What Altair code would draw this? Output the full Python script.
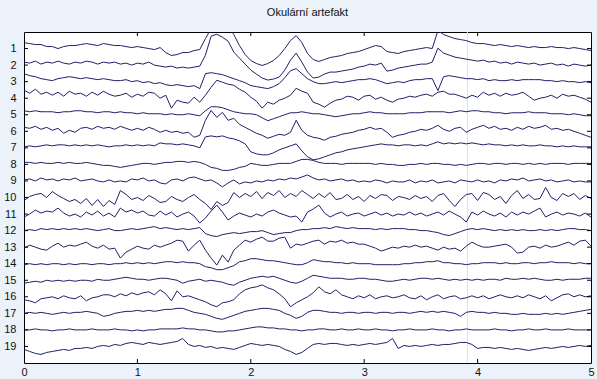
import altair as alt
import pandas as pd

TITLE = "Okulární artefakt"
CHANNELS = list(range(1, 20))
X_TICKS = [0, 1, 2, 3, 4, 5]
N = 101
DT = 0.05
TIME = [round(i * DT, 2) for i in range(N)]
UV_PER_ROW = 16.6          # amplitude units per channel spacing
MARKER_T = [3.91]          # faint cursor line

ch01 = [6,5,4,4,2,2,0,2,3,3, 4,5,4,3,5,4,3,3,2,1, 2,1,0,-1,1,-4,-7,-6,-4,-4,
        -2,-1,10,20,26,26,22,14,3,-6, -12,-15,-17,-15,-12,-7,0,8,13,6,
        -5,-11,-13,-11,-9,-8,-7,-5,-4,-3, -1,1,3,2,-3,-4,-5,-3,-2,-1,
        0,1,0,18,14,12,10,9,8,6, 5,5,4,3,4,3,2,3,2,1, 2,1,1,2,1,1,0,1,0,-1,-2]
ch02 = [3,2,4,1,3,2,4,2,1,3, 2,4,3,1,3,2,3,1,2,0, 2,1,3,0,-1,-2,-1,-3,-2,-3,
        -2,-1,10,29,31,28,24,13,7,1, -5,-9,-13,-15,-14,-12,-5,5,12,3,
        -7,-13,-12,-9,-7,-7,-6,-5,-4,-2, -1,1,0,2,-6,-5,-3,-2,-1,0,
        1,1,3,17,12,10,8,7,6,5, 4,5,3,4,2,3,1,3,2,1, 2,0,1,2,0,1,-1,1,0,-1,0]
ch03 = [8,6,5,3,2,1,3,4,5,4, 3,4,3,2,3,2,1,1,2,0, 1,-1,0,-2,-1,-3,-4,-3,-4,-5,
        -4,-7,8,9,8,7,5,3,1,-1, -4,-5,-6,-7,-5,-2,4,11,13,8,
        3,0,-2,-2,-1,0,-1,0,1,2, 2,3,2,0,-2,-1,0,-1,1,2,
        2,3,3,-9,5,6,5,4,3,3, 2,3,1,2,1,1,2,1,2,2, 2,2,1,1,0,1,0,0,-1,0,-1]
ch04 = [8,5,9,4,6,3,6,2,7,4, 5,2,6,3,7,4,2,3,5,1, 4,2,6,5,0,3,-10,-2,-4,-5,
        1,-4,3,11,18,16,14,13,9,6, 1,-3,-10,-4,-6,-2,0,3,10,7,
        5,-4,-6,-9,-5,-2,-1,2,1,-2, 2,3,-1,1,-2,-4,-1,0,2,1,
        3,4,2,6,7,4,4,2,0,3, 1,6,3,5,2,5,3,4,6,2, -2,0,1,3,0,4,2,3,1,-1,-4]
ch05 = [4,3,4,3,3,3,2,3,3,4, 4,3,3,2,3,3,2,3,2,2, 1,2,1,1,1,0,1,0,0,1,
        0,-1,4,8,8,7,5,3,2,1, 1,0,-3,-6,-4,-2,0,2,2,3,
        2,1,1,0,-1,-2,-1,0,1,1, 2,3,2,2,1,1,1,1,2,2,
        2,3,3,3,3,2,3,4,3,4, 4,3,3,2,2,1,2,2,2,3, 2,2,2,1,1,1,0,1,0,-1,-1]
ch06 = [4,3,5,2,4,1,3,-2,1,-1, 3,4,2,5,3,4,2,5,3,1, 3,1,4,2,-1,1,-1,0,-2,-1,
        -6,-4,11,21,14,19,11,13,7,4, 1,-2,-4,-7,-5,-3,-4,-1,11,1,
        -4,-6,-7,-9,-6,-5,-3,-2,-1,1, 2,4,2,3,-1,-6,-4,-3,-1,0,
        2,1,3,6,2,0,3,4,-1,2, 4,6,3,5,2,3,1,4,2,5, 3,4,6,2,3,1,2,0,-2,-4,-6]
ch07 = [1,2,1,2,3,2,3,3,2,3, 2,3,2,3,2,1,2,2,3,2, 3,2,3,2,5,4,4,3,4,3,
        2,0,11,12,11,12,10,9,7,4, -4,-6,-7,-7,-5,-2,0,2,4,-3,
        -9,-12,-11,-9,-7,-5,-4,-2,-1,0, 1,2,3,4,3,3,2,3,3,2,
        3,2,4,6,4,5,4,5,4,5, 4,3,4,3,3,2,3,2,3,2, 2,3,2,2,1,2,1,2,1,1,1]
ch08 = [2,2,1,2,1,1,2,1,2,1, 1,2,1,0,-1,-1,-2,-3,-2,-1, 0,1,1,0,1,2,2,3,3,2,
        3,2,0,-3,-4,-6,-6,-5,-3,-2, 1,0,-1,-1,0,1,1,1,3,5,
        5,4,2,1,1,1,0,1,1,1, 1,1,0,1,0,0,-1,-1,0,0,
        1,0,1,1,0,0,-1,0,-1,0, 1,1,0,1,1,0,1,1,0,1, 0,1,0,1,1,1,0,1,1,1,1]
ch09 = [1,2,0,3,1,2,0,2,1,3, 0,1,2,0,-1,1,-1,0,-1,2, 1,3,0,1,-2,-3,1,2,0,3,
        4,2,0,1,-2,-6,-2,1,-3,-1, -2,0,-1,1,0,2,1,3,2,4,
        6,3,1,2,0,1,2,0,1,-1, 0,-1,1,0,-2,0,-1,-1,1,-2,
        0,-1,1,-2,-1,0,-2,1,0,-1, 1,-1,0,-2,1,0,2,1,3,0, 1,2,0,1,-1,0,1,-1,0,-1,-1]
ch10 = [-3,1,3,4,0,6,2,-1,-4,-2, -6,-1,-8,-2,-9,-3,-7,7,3,-2, 0,-3,2,-1,-5,-4,1,-2,-4,0,
        3,-2,-6,-12,-4,-8,-5,5,0,4, 1,6,-1,5,2,7,0,4,1,7,
        3,-1,4,0,5,-2,-1,3,-2,1, -4,2,-1,3,2,-3,1,0,-2,2,
        -1,1,-4,2,4,-3,-9,-2,3,4, -3,5,3,-2,1,-6,2,7,-1,3, -2,-1,10,0,-3,4,1,4,-2,2,-1]
ch11 = [-3,0,4,1,3,2,6,1,-2,0, -3,2,-1,3,-2,1,-3,6,2,4, 1,3,-1,-2,3,-1,2,-3,0,2,
        -2,-9,-4,3,9,2,-6,-2,1,-1, -3,0,-2,2,4,1,-1,-3,-2,-8,
        2,5,9,1,-3,0,2,-2,0,1, -2,0,2,-1,1,-2,0,-1,2,-1,
        1,-2,0,2,-1,3,0,-3,-8,2, -1,3,0,-2,1,-3,2,-1,2,0, 3,6,-3,0,2,-1,1,0,-2,1,-3]
ch12 = [0,1,0,2,1,2,1,2,1,2, 1,2,1,0,1,2,0,0,1,2, 1,2,3,4,2,3,2,1,2,1,
        2,3,-3,-5,-6,-4,-3,-2,-3,-2, -1,-1,0,-2,-4,-3,-2,-2,0,1,
        1,2,2,3,2,4,3,2,3,2, 2,2,1,2,1,2,2,2,1,1,
        0,0,-1,-2,-4,-5,-3,-1,1,2, 1,2,1,0,1,0,1,0,1,0, 0,1,0,1,0,1,2,2,1,1,0]
ch13 = [-1,2,0,-2,-3,1,4,0,2,1, 3,5,1,-1,2,-2,-1,-11,-5,-2, 1,-1,-2,2,0,2,4,7,6,-4,
        2,7,-3,-11,-18,-8,-15,-3,2,7, 5,8,10,6,6,9,10,-1,3,2,
        4,6,7,3,6,5,7,4,5,3, 3,1,-1,-4,-2,0,-1,1,0,2,
        0,1,-1,-3,0,-2,-1,-4,1,5, 2,0,0,1,2,3,0,-6,-5,0, 1,-1,2,0,1,3,5,2,6,7,1]
ch14 = [-1,0,-1,0,-1,0,0,-1,0,-1, 0,0,-1,0,0,-1,0,0,1,0, 1,0,1,0,1,2,2,1,2,1,
        1,0,-3,-4,-6,-6,-4,-2,2,3, 5,5,4,3,3,2,1,0,-1,-1,
        1,4,3,2,2,1,1,0,1,0, 0,0,-1,-1,-1,-1,-1,0,0,1,
        1,2,2,3,1,1,0,0,-1,0, 0,1,1,1,0,1,0,0,1,1, 0,1,1,2,1,1,1,0,1,0,0]
ch15 = [-3,-2,-1,-2,0,-1,0,-1,0,-1, 0,0,-1,1,0,0,1,2,3,2, 1,1,0,1,2,2,1,0,-3,-1,
        0,1,-1,0,-1,-2,-4,-5,-2,0, 2,3,4,3,4,2,0,-2,-3,-1,
        2,5,4,3,2,2,2,1,1,2, 2,1,1,0,-1,-1,0,1,0,1,
        2,2,1,2,1,0,1,0,1,0, 1,0,1,1,0,2,1,1,2,1, 2,1,0,0,1,0,1,1,1,2,2]
ch16 = [-3,-4,-6,-2,-1,0,-2,1,-1,-2, 1,-4,-1,0,2,2,0,3,1,4, 2,4,5,2,7,3,-4,6,0,1,
        -1,-3,-5,-8,-10,-6,-5,-3,3,7, 9,10,12,9,7,3,-2,-10,-6,-3,
        0,4,10,5,3,7,2,0,-2,1, -1,2,-2,0,1,-1,0,2,-1,-2,
        1,-3,0,2,-2,0,1,-2,-1,1, -1,1,-2,0,2,0,-1,1,-1,2, 0,-2,1,-4,-1,2,3,0,2,0,1]
ch17 = [0,1,0,1,0,-1,0,1,0,1, 1,2,1,0,-3,-2,0,1,2,2, 3,2,3,2,3,4,4,5,5,3,
        1,0,-1,-3,-5,-6,-4,-2,0,2, 3,4,5,5,4,3,0,-2,-5,-3,
        1,3,3,2,1,1,0,1,1,0, 1,1,0,1,1,0,1,1,0,1,
        2,1,2,1,2,1,0,-3,1,2, 1,1,0,1,0,0,-1,-1,0,-1, -1,-1,0,-1,0,-1,0,1,2,3,4]
ch18 = [0,0,1,0,0,-1,0,0,1,0, 0,0,1,0,0,0,1,0,0,-1, 0,-1,0,0,1,1,1,1,2,1,
        1,0,0,-1,-2,-2,-1,-1,0,1, 2,3,3,2,2,1,1,0,0,-1,
        0,0,1,1,0,0,1,0,0,1, 0,0,1,0,0,-1,0,0,1,0,
        0,0,1,0,0,-1,0,0,1,0, 0,0,0,1,0,0,-1,0,0,1, 0,0,1,0,0,0,1,0,0,0,0]
ch19 = [-3,-5,-7,-8,-6,-5,-4,-3,-4,-2, -2,-1,-2,0,1,0,2,1,3,4, 3,2,4,3,2,3,4,5,8,2,
        0,1,-1,0,-2,-1,-2,-3,-1,1, 3,2,1,2,1,0,-3,-5,-8,-6,
        -2,2,3,2,3,3,2,1,2,1, 2,3,2,3,4,8,-2,1,0,1,
        0,1,2,1,2,2,3,4,4,2, -2,-1,-1,-2,-1,-2,-3,-2,-3,-4, -3,-2,-1,-2,-1,0,-1,0,1,0,1]

TRACES = [ch01, ch02, ch03, ch04, ch05, ch06, ch07, ch08, ch09, ch10,
          ch11, ch12, ch13, ch14, ch15, ch16, ch17, ch18, ch19]

rows = []
for ch, trace in zip(CHANNELS, TRACES):
    assert len(trace) == N, (ch, len(trace))
    for t, a in zip(TIME, trace):
        rows.append({"ch": ch, "t": t, "y": ch - a / UV_PER_ROW})
df = pd.DataFrame(rows)

W, H = 567, 331
FONT = "Liberation Sans"
LINE = "#1f1f6b"

xs = alt.Scale(domain=[0, 5], nice=False, zero=False)
ys = alt.Scale(domain=[0, 20], reverse=True, nice=False, zero=False)
XAX = alt.Axis(values=X_TICKS, title=None, ticks=False, grid=False,
               domain=False, labelPadding=3, labelFlush=False, format="d")
YAX = alt.Axis(values=CHANNELS, title=None, ticks=False, grid=False,
               domain=False, labelPadding=8, labelOverlap=False, format="d")

lines = alt.Chart(df).mark_line(color=LINE, strokeWidth=1, clip=True).encode(
    x=alt.X("t:Q", scale=xs, axis=XAX),
    y=alt.Y("y:Q", scale=ys, axis=YAX),
    detail="ch:N",
)

marker = alt.Chart(pd.DataFrame({"t": MARKER_T})).mark_rule(
    color="#c4ecf0", strokeWidth=1).encode(x=alt.X("t:Q", scale=xs, axis=XAX))

xt = pd.DataFrame({"t": X_TICKS[1:-1]})
yt = pd.DataFrame({"y": CHANNELS})
tick_style = dict(color="#000000", strokeWidth=1)
top_ticks = alt.Chart(xt).mark_rule(**tick_style).encode(
    x=alt.X("t:Q", scale=xs, axis=XAX), y=alt.value(0), y2=alt.value(4))
bot_ticks = alt.Chart(xt).mark_rule(**tick_style).encode(
    x=alt.X("t:Q", scale=xs, axis=XAX), y=alt.value(H - 4), y2=alt.value(H))
left_ticks = alt.Chart(yt).mark_rule(**tick_style).encode(
    y=alt.Y("y:Q", scale=ys, axis=YAX), x=alt.value(0), x2=alt.value(4))
right_ticks = alt.Chart(yt).mark_rule(**tick_style).encode(
    y=alt.Y("y:Q", scale=ys, axis=YAX), x=alt.value(W - 4), x2=alt.value(W))

chart = alt.layer(marker, lines, top_ticks, bot_ticks, left_ticks, right_ticks).properties(
    width=W, height=H,
    title=alt.TitleParams(TITLE, fontSize=11, fontWeight="normal", font=FONT,
                          color="#111111", anchor="middle", offset=14),
    autosize=alt.AutoSizeParams(type="none"),
    padding={"left": 24, "top": 32, "right": 6, "bottom": 16},
).configure(background="#ecf2fa").configure_view(
    fill="white", stroke="#000000", strokeWidth=1
).configure_axis(
    labelFont=FONT, labelFontSize=11, labelColor="#111111"
)

chart.save("out.html", embed_options={"renderer": "svg", "actions": False})
